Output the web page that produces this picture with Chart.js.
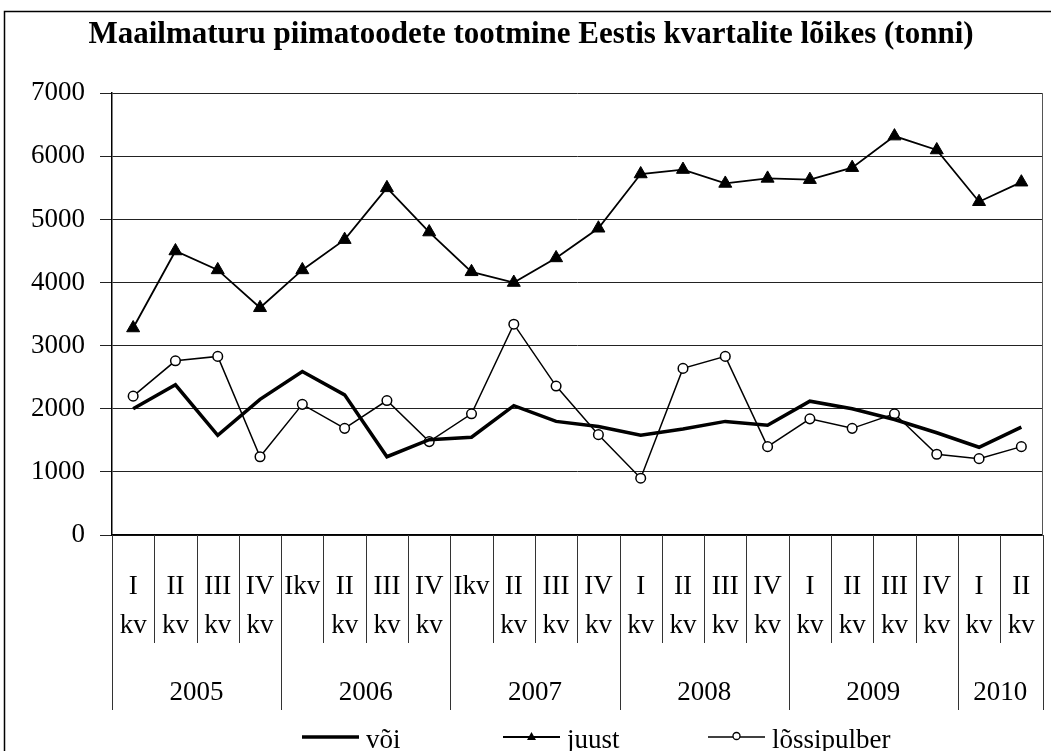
<!DOCTYPE html>
<html>
<head>
<meta charset="utf-8">
<script src="https://cdn.jsdelivr.net/npm/chart.js@4/dist/chart.umd.min.js"></script>
<style>
  html, body { margin: 0; padding: 0; background: #fff; }
  canvas { display: block; }
</style>
</head>
<body>
<canvas id="chart1" width="1051" height="751"></canvas>
<script>
// Kvartalid (alumine rida) ja aastad (teine rida)
const Quarters = [
  ['I', 'kv'], ['II', 'kv'], ['III', 'kv'], ['IV', 'kv'],
  'Ikv', ['II', 'kv'], ['III', 'kv'], ['IV', 'kv'],
  'Ikv', ['II', 'kv'], ['III', 'kv'], ['IV', 'kv'],
  ['I', 'kv'], ['II', 'kv'], ['III', 'kv'], ['IV', 'kv'],
  ['I', 'kv'], ['II', 'kv'], ['III', 'kv'], ['IV', 'kv'],
  ['I', 'kv'], ['II', 'kv']
];
const Years = ['2005', '2006', '2007', '2008', '2009', '2010'];
const YearSpans = [4, 4, 4, 4, 4, 2];

// Andmed (tonni)
const Voi = [2000, 2380, 1580, 2150, 2590, 2220, 1240, 1510, 1550, 2050, 1800,
             1720, 1580, 1680, 1800, 1740, 2120, 2000, 1830, 1620, 1390, 1710];
const Juust = [3280, 4500, 4200, 3600, 4200, 4680, 5500, 4800, 4170, 4000, 4390,
               4860, 5720, 5790, 5570, 5650, 5630, 5820, 6320, 6100, 5280, 5590];
const Lossipulber = [2200, 2760, 2830, 1240, 2070, 1690, 2130, 1480, 1920, 3340, 2360,
                     1590, 900, 2640, 2830, 1400, 1840, 1690, 1920, 1280, 1210, 1400];

const YTicks = [0, 1000, 2000, 3000, 4000, 5000, 6000, 7000];

const FONT = 'Liberation Serif, Times New Roman, serif';
Chart.defaults.font.family = FONT;
Chart.defaults.color = '#000';

// Raam, kategooriate eraldajad, aastad ja legend
const ExcelLook = {
  id: 'excelLook',
  beforeDraw(chart) {
    const ctx = chart.ctx;
    ctx.save();
    ctx.fillStyle = '#fff';
    ctx.fillRect(0, 0, chart.width, chart.height);
    ctx.strokeStyle = '#000';
    ctx.lineWidth = 1.5;
    ctx.strokeRect(4.5, 11.5, chart.width + 20, chart.height + 20);
    ctx.restore();
  },
  afterDraw(chart) {
    const ctx = chart.ctx;
    const x = chart.scales.x;
    const area = chart.chartArea;
    const n = Quarters.length;
    const half = (x.getPixelForValue(1) - x.getPixelForValue(0)) / 2;
    const edge = i => (i < n ? x.getPixelForValue(i) - half : x.getPixelForValue(n - 1) + half);

    ctx.save();
    ctx.strokeStyle = '#555';
    ctx.lineWidth = 1;
    // plotiala parem serv
    ctx.beginPath();
    ctx.moveTo(Math.round(area.right) - 0.5, area.top);
    ctx.lineTo(Math.round(area.right) - 0.5, area.bottom);
    ctx.stroke();

    // aastate piirid
    const yearEdges = [0];
    YearSpans.forEach(s => yearEdges.push(yearEdges[yearEdges.length - 1] + s));

    ctx.strokeStyle = '#333';
    for (let i = 0; i <= n; i++) {
      const px = Math.round(edge(i)) + 0.5;
      const long = yearEdges.includes(i);
      ctx.beginPath();
      ctx.moveTo(px, area.bottom);
      ctx.lineTo(px, long ? area.bottom + 175 : area.bottom + 108);
      ctx.stroke();
    }

    // aastate sildid
    ctx.fillStyle = '#000';
    ctx.font = '27px ' + FONT;
    ctx.textAlign = 'center';
    ctx.textBaseline = 'alphabetic';
    Years.forEach((yr, k) => {
      const cx = (edge(yearEdges[k]) + edge(yearEdges[k + 1])) / 2;
      ctx.fillText(yr, cx, area.bottom + 165);
    });

    // legend
    const legX = [302, 503, 708];
    const legY = 737;
    chart.data.datasets.forEach((ds, k) => {
      const x0 = legX[k];
      ctx.strokeStyle = '#000';
      ctx.lineWidth = ds.borderWidth;
      ctx.beginPath();
      ctx.moveTo(x0, legY);
      ctx.lineTo(x0 + 57, legY);
      ctx.stroke();
      const mx = x0 + 28.5;
      if (ds.pointStyle === 'triangle') {
        ctx.fillStyle = '#000';
        ctx.beginPath();
        ctx.moveTo(mx, legY - 5);
        ctx.lineTo(mx + 4.5, legY + 3);
        ctx.lineTo(mx - 4.5, legY + 3);
        ctx.closePath();
        ctx.fill();
      } else if (ds.pointStyle === 'circle' && ds.pointRadius > 0) {
        ctx.fillStyle = '#fff';
        ctx.lineWidth = 1.3;
        ctx.beginPath();
        ctx.arc(mx, legY - 1, 3.5, 0, Math.PI * 2);
        ctx.fill();
        ctx.stroke();
      }
      ctx.fillStyle = '#000';
      ctx.textAlign = 'left';
      ctx.fillText(ds.label, x0 + 64, 748);
    });
    ctx.restore();
  }
};

new Chart('chart1', {
  type: 'line',
  data: {
    labels: Quarters,
    datasets: [
      {
        label: 'või',
        data: Voi,
        borderColor: '#000',
        borderWidth: 3.5,
        pointRadius: 0,
        pointStyle: 'circle',
        tension: 0
      },
      {
        label: 'juust',
        data: Juust,
        borderColor: '#000',
        borderWidth: 1.8,
        pointStyle: 'triangle',
        pointRadius: 7.5,
        pointBackgroundColor: '#000',
        pointBorderColor: '#000',
        pointBorderWidth: 1,
        tension: 0
      },
      {
        label: 'lõssipulber',
        data: Lossipulber,
        borderColor: '#000',
        borderWidth: 1.5,
        pointStyle: 'circle',
        pointRadius: 4.8,
        pointBackgroundColor: '#fff',
        pointBorderColor: '#000',
        pointBorderWidth: 1.5,
        tension: 0
      }
    ]
  },
  options: {
    responsive: false,
    animation: false,
    devicePixelRatio: 1,
    layout: { padding: { left: 13, right: 2, top: 0, bottom: 0 } },
    plugins: {
      legend: { display: false },
      tooltip: { enabled: false },
      title: {
        display: true,
        text: 'Maailmaturu piimatoodete tootmine Eestis kvartalite lõikes (tonni)',
        color: '#000',
        font: { family: FONT, size: 31, weight: 'bold' },
        padding: { top: 16, bottom: 40 }
      }
    },
    scales: {
      x: {
        type: 'category',
        offset: true,
        grid: {
          display: true,
          drawOnChartArea: false,
          drawTicks: true,
          tickLength: 32,
          color: 'rgba(0,0,0,0)'
        },
        border: { display: true, color: '#000', width: 1.5 },
        ticks: {
          color: '#000',
          autoSkip: false,
          maxRotation: 0,
          minRotation: 0,
          padding: 0,
          font: { family: FONT, size: 27, lineHeight: 1.444 }
        },
        afterFit(scale) { scale.height = 216; }
      },
      y: {
        min: 0,
        max: 7000,
        afterBuildTicks(scale) { scale.ticks = YTicks.map(v => ({ value: v })); },
        border: { display: true, color: '#000', width: 1.5 },
        grid: { color: '#222', lineWidth: 1, tickLength: 12 },
        ticks: {
          color: '#000',
          padding: 15,
          font: { family: FONT, size: 27 },
          callback: v => String(v)
        },
        afterFit(scale) { scale.width = 99; }
      }
    }
  },
  plugins: [ExcelLook]
});
</script>
</body>
</html>
